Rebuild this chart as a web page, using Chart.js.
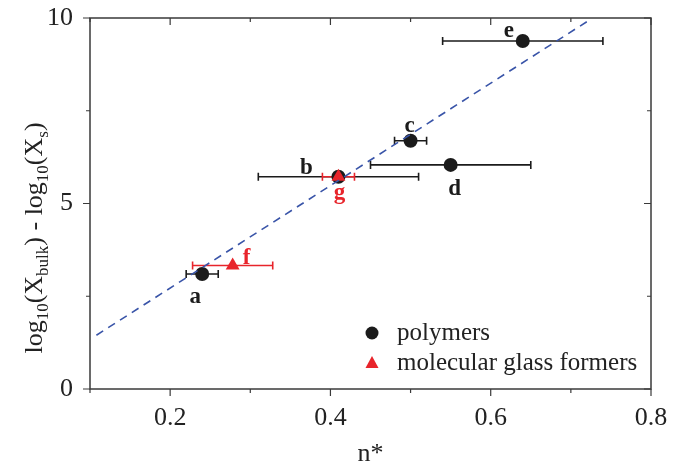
<!DOCTYPE html>
<html>
<head>
<meta charset="utf-8">
<script src="https://cdn.jsdelivr.net/npm/chart.js@4.4.1/dist/chart.umd.min.js"></script>
<style>
  html, body { margin: 0; padding: 0; background: #fff; }
  #wrap { width: 695px; height: 463px; position: relative; }
</style>
</head>
<body>
<div id="wrap"><canvas id="fitChart"></canvas></div>
<script>
// values
const polymerLabels = ['a', 'b', 'c', 'd', 'e']
const polymerN = [0.24, 0.41, 0.50, 0.55, 0.64]
const polymerNErr = [0.02, 0.10, 0.02, 0.10, 0.10]
const polymerLogRatio = [3.10, 5.72, 6.69, 6.04, 9.38]

const glassLabels = ['f', 'g']
const glassN = [0.278, 0.41]
const glassNErr = [0.05, 0.02]
const glassLogRatio = [3.33, 5.72]

const fitN = [0.108, 0.725]
const fitLogRatio = [1.45, 9.97]

const xTickLabels = [0.2, 0.4, 0.6, 0.8]
const xMinorTicks = [0.1, 0.3, 0.5, 0.7]
const yTickLabels = [0, 5, 10]
const yMinorTicks = [2.5, 7.5]

// label placement, px from the marker (dx, baseline dy)
const polymerLabelOffsets = [[-7, 29], [-32, -3], [-1, -9], [4, 30], [-14, -4]]
const glassLabelOffsets = [[14, -1], [1, 22]]

const BLACK = '#1b1b1b'
const RED = '#e8242b'
const BLUE = '#3954a8'
const AXIS = '#3a3a3a'
const SERIF = '"Liberation Serif", "DejaVu Serif", serif'

const toPoints = (xs, ys) => xs.map((x, i) => ({ x: x, y: ys[i] }))

const errorBars = {
  id: 'errorBars',
  beforeDatasetsDraw(chart) {
    const ctx = chart.ctx
    const xs = chart.scales.x
    const ys = chart.scales.y
    const groups = [[polymerN, polymerNErr, polymerLogRatio, BLACK], [glassN, glassNErr, glassLogRatio, RED]]
    ctx.save()
    ctx.lineWidth = 1.6
    groups.forEach(([n, err, val, color]) => {
      ctx.strokeStyle = color
      n.forEach((x, i) => {
        const x1 = xs.getPixelForValue(x - err[i])
        const x2 = xs.getPixelForValue(x + err[i])
        const y = ys.getPixelForValue(val[i])
        ctx.beginPath()
        ctx.moveTo(x1, y)
        ctx.lineTo(x2, y)
        ctx.moveTo(x1, y - 4)
        ctx.lineTo(x1, y + 4)
        ctx.moveTo(x2, y - 4)
        ctx.lineTo(x2, y + 4)
        ctx.stroke()
      })
    })
    ctx.restore()
  }
}

const decorations = {
  id: 'decorations',
  afterDraw(chart) {
    const ctx = chart.ctx
    const xs = chart.scales.x
    const ys = chart.scales.y
    const a = chart.chartArea
    ctx.save()

    // frame and ticks
    ctx.strokeStyle = AXIS
    ctx.lineWidth = 1.5
    ctx.strokeRect(a.left, a.top, a.right - a.left, a.bottom - a.top)
    ctx.lineWidth = 1.2
    ctx.beginPath()
    const xTick = (v, len) => {
      const px = xs.getPixelForValue(v)
      ctx.moveTo(px, a.bottom); ctx.lineTo(px, a.bottom + len)
      ctx.moveTo(px, a.top); ctx.lineTo(px, a.top + len)
    }
    const yTick = (v, len) => {
      const py = ys.getPixelForValue(v)
      ctx.moveTo(a.left, py); ctx.lineTo(a.left - len, py)
      ctx.moveTo(a.right, py); ctx.lineTo(a.right - len, py)
    }
    xTickLabels.forEach(v => xTick(v, 7))
    xMinorTicks.forEach(v => xTick(v, 4))
    yTickLabels.forEach(v => yTick(v, 7))
    yMinorTicks.forEach(v => yTick(v, 4))
    ctx.stroke()

    // sample letters
    ctx.font = 'bold 23px ' + SERIF
    ctx.textAlign = 'center'
    ctx.textBaseline = 'alphabetic'
    const letters = (labels, n, val, offsets, color) => {
      ctx.fillStyle = color
      labels.forEach((t, i) => {
        const px = xs.getPixelForValue(n[i]) + offsets[i][0]
        const py = ys.getPixelForValue(val[i]) + offsets[i][1]
        ctx.fillText(t, px, py)
      })
    }
    letters(polymerLabels, polymerN, polymerLogRatio, polymerLabelOffsets, BLACK)
    letters(glassLabels, glassN, glassLogRatio, glassLabelOffsets, RED)

    // legend
    ctx.fillStyle = BLACK
    ctx.beginPath()
    ctx.arc(372, 333, 6.5, 0, Math.PI * 2)
    ctx.fill()
    ctx.fillStyle = RED
    ctx.beginPath()
    ctx.moveTo(372, 356)
    ctx.lineTo(378.5, 368)
    ctx.lineTo(365.5, 368)
    ctx.closePath()
    ctx.fill()
    ctx.fillStyle = '#222'
    ctx.font = '25px ' + SERIF
    ctx.textAlign = 'left'
    ctx.textBaseline = 'middle'
    ctx.fillText('polymers', 397, 333)
    ctx.fillText('molecular glass formers', 397, 363)

    // y title with subscripts
    const parts = [['log', 0], ['10', 1], ['(X', 0], ['bulk', 1], [') - log', 0], ['10', 1], ['(X', 0], ['s', 1], [')', 0]]
    const mainFont = '26px ' + SERIF
    const subFont = '17px ' + SERIF
    let total = 0
    parts.forEach(([t, sub]) => {
      ctx.font = sub ? subFont : mainFont
      total += ctx.measureText(t).width
    })
    ctx.translate(42, 238)
    ctx.rotate(-Math.PI / 2)
    ctx.textBaseline = 'alphabetic'
    let cx = -total / 2
    parts.forEach(([t, sub]) => {
      ctx.font = sub ? subFont : mainFont
      ctx.fillText(t, cx, sub ? 6 : 0)
      cx += ctx.measureText(t).width
    })
    ctx.restore()
  }
}

const init = () => {
  const ctx = document.querySelector('#fitChart')
  new Chart(ctx, {
    type: 'scatter',
    data: {
      datasets: [{
        label: 'fit',
        type: 'line',
        data: toPoints(fitN, fitLogRatio),
        borderColor: BLUE,
        borderWidth: 1.6,
        borderDash: [8, 6],
        pointRadius: 0,
        fill: false,
        order: 0
      }, {
        label: 'molecular glass formers',
        data: toPoints(glassN, glassLogRatio),
        backgroundColor: RED,
        borderColor: RED,
        pointStyle: 'triangle',
        pointRadius: 8,
        borderWidth: 0,
        order: 1
      }, {
        label: 'polymers',
        data: toPoints(polymerN, polymerLogRatio),
        backgroundColor: BLACK,
        borderColor: BLACK,
        pointStyle: 'circle',
        pointRadius: 7,
        borderWidth: 0,
        order: 2
      }]
    },
    options: {
      responsive: true,
      maintainAspectRatio: false,
      animation: false,
      layout: { padding: { top: 18, right: 44, left: 0, bottom: 0 } },
      plugins: {
        legend: { display: false },
        tooltip: { enabled: false }
      },
      scales: {
        x: {
          type: 'linear',
          min: 0.1,
          max: 0.8,
          grid: { display: false },
          border: { display: false },
          afterFit: (scale) => { scale.height = 74 },
          ticks: {
            stepSize: 0.1,
            autoSkip: false,
            maxRotation: 0,
            padding: 6,
            color: '#222',
            font: { family: SERIF, size: 26 },
            callback: (value) => {
              const v = Math.round(value * 10) / 10
              return xTickLabels.includes(v) ? v.toFixed(1) : ''
            }
          },
          title: {
            display: true,
            text: 'n*',
            color: '#222',
            font: { family: SERIF, size: 26 },
            padding: { top: 2, bottom: -7 }
          }
        },
        y: {
          type: 'linear',
          min: 0,
          max: 10,
          grid: { display: false },
          border: { display: false },
          afterFit: (scale) => {
            scale.width = 90
            scale.paddingTop = 0
            scale.paddingBottom = 0
          },
          ticks: {
            stepSize: 5,
            padding: 9,
            color: '#222',
            font: { family: SERIF, size: 26 },
            callback: (value) => yTickLabels.includes(value) ? String(value) : ''
          }
        }
      }
    },
    plugins: [errorBars, decorations]
  })
}

document.addEventListener('DOMContentLoaded', function() {
  init()
})
</script>
</body>
</html>
